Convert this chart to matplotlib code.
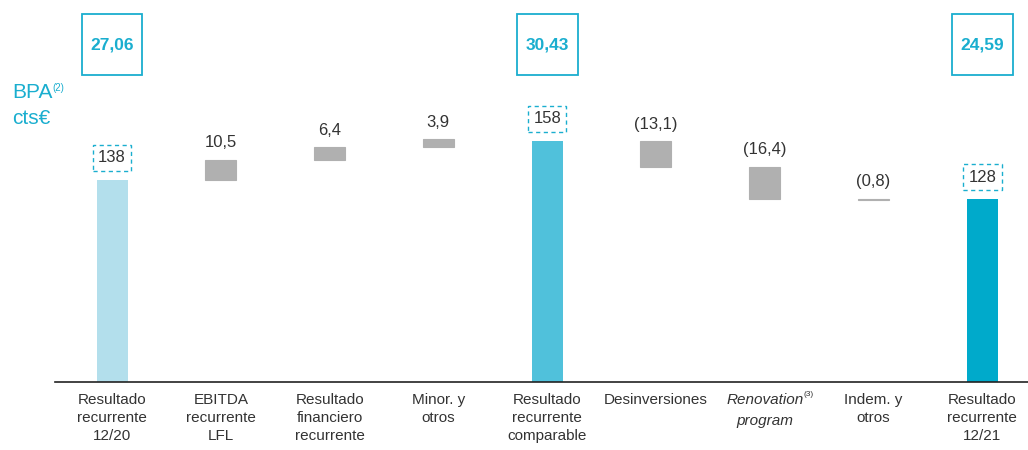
import matplotlib.pyplot as plt
from matplotlib.patches import Rectangle

plt.rcParams['font.family'] = ['Liberation Sans', 'DejaVu Sans']

categories = ['Resultado\nrecurrente\n12/20', 'EBITDA\nrecurrente\nLFL',
              'Resultado\nfinanciero\nrecurrente', 'Minor. y\notros',
              'Resultado\nrecurrente\ncomparable', 'Desinversiones',
              'Renovation', 'Indem. y\notros', 'Resultado\nrecurrente\n12/21']
values = [138, 10.5, 6.4, 3.9, 158, -13.1, -16.4, -0.8, 128]
is_total = [True, False, False, False, True, False, False, False, True]
top_boxes = {0: '27,06', 4: '30,43', 8: '24,59'}

total_colors = {0: '#b3dfec', 4: '#50c1db', 8: '#00aacb'}
gray = '#b0b0b0'
cyan = '#1aaecf'
txt = '#333333'

fig = plt.figure(figsize=(10.28, 4.5), dpi=100)
ax = fig.add_axes([55 / 1028, 68 / 450, (1028 - 55) / 1028, 382 / 450])
ax.set_xlim(-0.524, 8.42)
ax.set_ylim(34.4, 230.3)

w = 0.285
running = 0
for i, v in enumerate(values):
    if is_total[i]:
        ax.bar(i, v, width=w, color=total_colors[i], zorder=2)
        running = v
        ax.annotate(str(v), (i, v), xytext=(0, 16), textcoords='offset points',
                    ha='center', va='center', fontsize=12, color=txt,
                    bbox=dict(boxstyle='square,pad=0.32', fc='white', ec=cyan,
                              ls=(0, (3, 2.5)), lw=1))
    else:
        ax.bar(i, v, bottom=running, width=w, color=gray, ec=gray, lw=0.8,
               zorder=2)
        top = max(running, running + v)
        running += v
        s = f'{abs(v):.1f}'.replace('.', ',')
        if v < 0:
            s = f'({s})'
        ax.annotate(s, (i, top), xytext=(0, 12), textcoords='offset points',
                    ha='center', va='center', fontsize=12, color=txt)

# boxes with EPS values on top
for i, s in top_boxes.items():
    ax.add_patch(Rectangle((i - 0.28, 0.804), 0.56, 0.159, fill=False,
                           ec=cyan, lw=1.3, transform=ax.get_xaxis_transform(),
                           clip_on=False))
    ax.text(i, 0.8835, s, ha='center', va='center', fontsize=12.5,
            fontweight='bold', color=cyan, transform=ax.get_xaxis_transform())

for sp in ['top', 'right', 'left']:
    ax.spines[sp].set_visible(False)
ax.spines['bottom'].set_color('#222222')
ax.spines['bottom'].set_linewidth(1.2)
ax.set_xticks([])
ax.set_yticks([])

# category labels
tr = ax.get_xaxis_transform()
y0 = -0.028
for i, c in enumerate(categories):
    if c == 'Renovation':
        ax.text(i + 0.36, y0, c, ha='right', va='top', fontsize=11,
                style='italic', color=txt, transform=tr)
        ax.text(i + 0.36, y0 + 0.004, '(3)', ha='left', va='top', fontsize=6,
                color=txt, transform=tr)
        ax.text(i, y0 - 0.055, 'program', ha='center', va='top', fontsize=11,
                style='italic', color=txt, transform=tr)
    else:
        ax.text(i, y0, c, ha='center', va='top', fontsize=11,
                color=txt, transform=tr, linespacing=1.38)

fig.text(12 / 1028, 1 - 92 / 450, 'BPA', fontsize=15, color=cyan,
         va='center', ha='left')
fig.text(52 / 1028, 1 - 88 / 450, '(2)', fontsize=7, color=cyan,
         va='center', ha='left')
fig.text(12 / 1028, 1 - 119 / 450, 'cts€', fontsize=15, color=cyan,
         va='center', ha='left')

fig.savefig('out.png', dpi=100)
